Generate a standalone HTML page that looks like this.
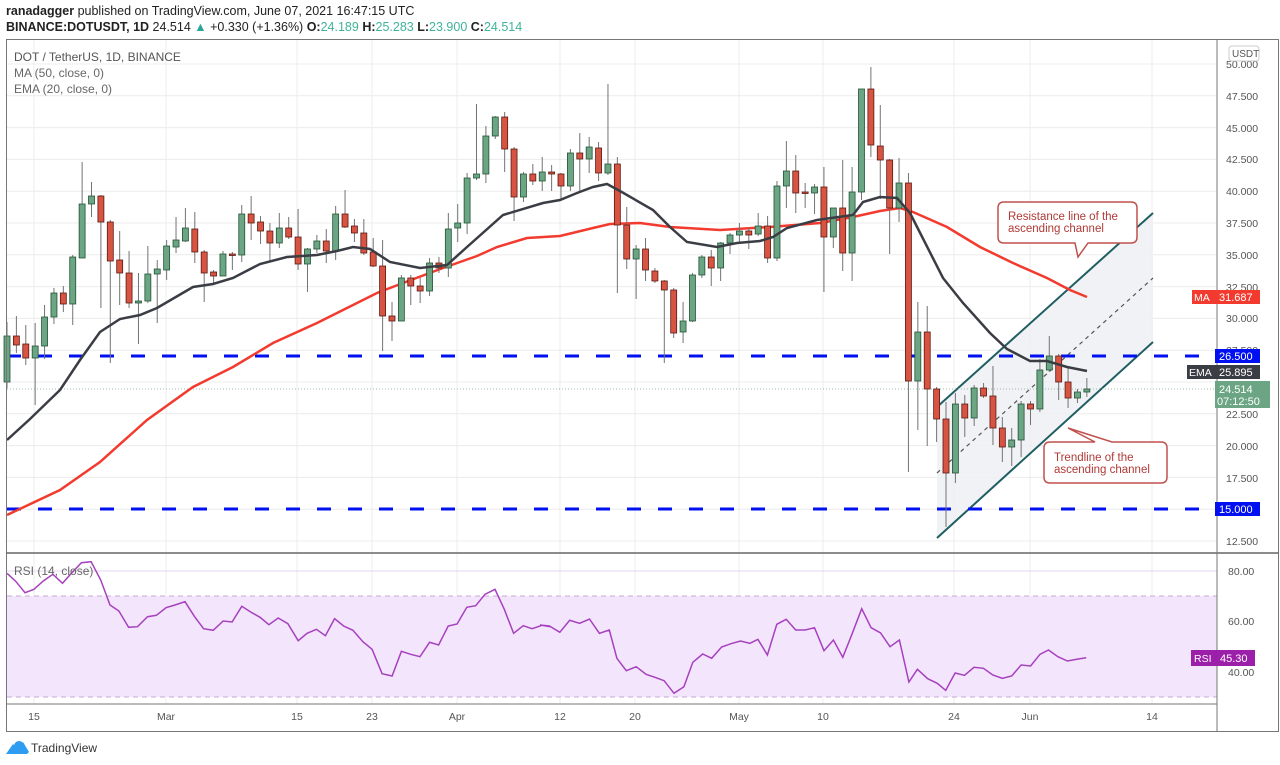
<!DOCTYPE html>
<html><head><meta charset="utf-8"><style>
body{margin:0;background:#fff;width:1280px;height:765px;overflow:hidden;font-family:"Liberation Sans",sans-serif}
svg{position:absolute;left:0;top:0}
</style></head><body>
<svg id="s" width="1280" height="765" viewBox="0 0 1280 765" xmlns="http://www.w3.org/2000/svg" font-family="Liberation Sans, sans-serif">
<rect width="1280" height="765" fill="#fff"/>
<g id="grid" stroke="#ececec" stroke-width="1"></g>
<!-- RSI band -->
<rect x="7" y="596" width="1210" height="101" fill="#f3e5fc"/>
<line x1="7" y1="596" x2="1217" y2="596" stroke="#c9a8d6" stroke-dasharray="5,4"/>
<line x1="7" y1="697" x2="1217" y2="697" stroke="#c9a8d6" stroke-dasharray="5,4"/>
<!-- channel -->
<polygon points="937,407 1153,213 1153,342 937,538" fill="#eef0f3" opacity="0.85"/>
<line x1="937" y1="407" x2="1153" y2="213" stroke="#1f5e63" stroke-width="2"/>
<line x1="937" y1="538" x2="1153" y2="342" stroke="#1f5e63" stroke-width="2"/>
<line x1="937" y1="473" x2="1153" y2="278" stroke="#555" stroke-width="1.2" stroke-dasharray="4,4"/>
<!-- horizontal lines -->
<line x1="7" y1="356" x2="1217" y2="356" stroke="#0010f0" stroke-width="3" stroke-dasharray="14,17"/>
<line x1="7" y1="509" x2="1217" y2="509" stroke="#0010f0" stroke-width="3" stroke-dasharray="14,17"/>
<line x1="7" y1="389" x2="1217" y2="389" stroke="#9bbfa8" stroke-width="1" stroke-dasharray="1,2"/>
<!-- MA -->
<polyline fill="none" stroke="#f23b2e" stroke-width="2.5" points="7,515 60,490 100,462 147,420 193,387 233,367 273,343 317,323 343,310 377,293 403,283 443,268 477,256 497,247 527,238 560,236 593,228 610,224 640,223 670,227 720,230 770,227 820,223 853,217 880,211 900,208 913,212 947,227 980,247 1013,263 1047,278 1070,290 1087,297"/>
<g id="candles"></g>
<!-- EMA -->
<polyline fill="none" stroke="#3b3d45" stroke-width="2.5" points="7,440 30,419 60,390 80,360 100,332 120,319 140,315 157,308 193,287 213,284 233,278 260,264 287,257 317,255 337,251 353,247 370,249 390,262 420,268 447,265 467,247 503,215 543,203 560,200 577,193 593,187 607,184 620,191 653,210 670,227 687,242 717,247 737,243 760,241 773,237 787,228 817,220 853,215 863,202 880,197 897,198 910,213 943,278 963,303 990,333 1007,349 1030,361 1047,361 1067,367 1087,371"/>
<!-- RSI -->
<polyline id="rsi" fill="none" stroke="#a641be" stroke-width="1.5"/>
<!-- frame -->
<rect x="6.5" y="39.5" width="1272" height="692" fill="none" stroke="#777" stroke-width="1"/>
<line x1="6" y1="553" x2="1279" y2="553" stroke="#666" stroke-width="1.5"/>
<line x1="6" y1="704" x2="1217" y2="704" stroke="#777" stroke-width="1"/>
<line x1="1217" y1="39" x2="1217" y2="731" stroke="#777" stroke-width="1"/>
<!-- header -->
<text x="6" y="15" font-size="12.5" fill="#222"><tspan font-weight="bold">ranadagger</tspan> published on TradingView.com, June 07, 2021 16:47:15 UTC</text>
<text x="6" y="31" font-size="12.5" fill="#222"><tspan font-weight="bold">BINANCE:DOTUSDT, 1D</tspan>  24.514 <tspan fill="#26a69a">▲</tspan> +0.330 (+1.36%) <tspan font-weight="bold">O:</tspan><tspan fill="#3fb39b">24.189</tspan> <tspan font-weight="bold">H:</tspan><tspan fill="#3fb39b">25.283</tspan> <tspan font-weight="bold">L:</tspan><tspan fill="#3fb39b">23.900</tspan> <tspan font-weight="bold">C:</tspan><tspan fill="#3fb39b">24.514</tspan></text>
<text x="14" y="61" font-size="12" fill="#555">DOT / TetherUS, 1D, BINANCE</text>
<text x="14" y="77" font-size="12" fill="#666">MA (50, close, 0)</text>
<text x="14" y="93" font-size="12" fill="#666">EMA (20, close, 0)</text>
<text x="14" y="575" font-size="12" fill="#666">RSI (14, close)</text>
<!-- price axis labels -->
<g font-size="10.5" fill="#555">
<text x="1226" y="68">50.000</text><text x="1226" y="100">47.500</text><text x="1226" y="132">45.000</text><text x="1226" y="163">42.500</text><text x="1226" y="195">40.000</text><text x="1226" y="227">37.500</text><text x="1226" y="259">35.000</text><text x="1226" y="291">32.500</text><text x="1226" y="322">30.000</text><text x="1226" y="354">27.500</text><text x="1226" y="418">22.500</text><text x="1226" y="450">20.000</text><text x="1226" y="482">17.500</text><text x="1226" y="545">12.500</text>
<text x="1228" y="575">80.00</text><text x="1228" y="625">60.00</text><text x="1228" y="676">40.00</text>
</g>
<rect x="1229" y="46" width="30" height="15" rx="3" fill="#fff" stroke="#ccc"/>
<text x="1232" y="57" font-size="10" fill="#555">USDT</text>
<!-- axis tags -->
<rect x="1215" y="349" width="45" height="14" fill="#0010f0"/><text x="1219" y="360" font-size="11" fill="#fff">26.500</text>
<rect x="1215" y="502" width="45" height="14" fill="#0010f0"/><text x="1219" y="513" font-size="11" fill="#fff">15.000</text>
<rect x="1192" y="290" width="68" height="14" fill="#f23b2e"/><text x="1194" y="301" font-size="10.5" fill="#fff">MA</text><text x="1219" y="301" font-size="11" fill="#fff">31.687</text>
<rect x="1187" y="365" width="73" height="14" fill="#3b3d45"/><text x="1189" y="376" font-size="10.5" fill="#fff">EMA</text><text x="1219" y="376" font-size="11" fill="#fff">25.895</text>
<rect x="1215" y="381" width="55" height="27" fill="#6ba583"/><text x="1219" y="393" font-size="11" fill="#fff">24.514</text><text x="1217" y="405" font-size="11" fill="#fff">07:12:50</text>
<rect x="1191" y="650" width="64" height="16" fill="#9b1fa8"/><text x="1194" y="662" font-size="10.5" fill="#fff">RSI</text><text x="1220" y="662" font-size="11" fill="#fff">45.30</text>
<!-- date labels -->
<g font-size="10.5" fill="#555" text-anchor="middle">
<text x="34" y="720">15</text><text x="166" y="720">Mar</text><text x="297" y="720">15</text><text x="372" y="720">23</text><text x="457" y="720">Apr</text><text x="560" y="720">12</text><text x="635" y="720">20</text><text x="739" y="720">May</text><text x="823" y="720">10</text><text x="954" y="720">24</text><text x="1030" y="720">Jun</text><text x="1152" y="720">14</text>
</g>
<!-- callouts -->
<path d="M1004,202 H1131 Q1137,202 1137,208 V237 Q1137,243 1131,243 H1088 L1078,257 L1075,243 H1004 Q998,243 998,237 V208 Q998,202 1004,202 Z" fill="#fff" stroke="#c0504d" stroke-width="1.5"/>
<text x="1008" y="220" font-size="11.5" fill="#b03a36">Resistance line of the</text>
<text x="1008" y="232" font-size="11.5" fill="#b03a36">ascending channel</text>
<path d="M1050,442 H1095 L1068,428 L1112,442 H1161 Q1167,442 1167,448 V477 Q1167,483 1161,483 H1050 Q1044,483 1044,477 V448 Q1044,442 1050,442 Z" fill="#fff" stroke="#c0504d" stroke-width="1.5"/>
<text x="1054" y="461" font-size="11.5" fill="#b03a36">Trendline of the</text>
<text x="1054" y="473" font-size="11.5" fill="#b03a36">ascending channel</text>
<!-- logo -->
<path d="M6,754 L13,744 L18,749 L23,742 L29,752 L27,754 Z" fill="#2e9cf0"/>
<circle cx="19" cy="746" r="5" fill="#2e9cf0"/>
<text x="31" y="752" font-size="12" fill="#333">TradingView</text>
</svg>
<script>
var NS="http://www.w3.org/2000/svg";
function el(t,a,p){var e=document.createElementNS(NS,t);for(var k in a)e.setAttribute(k,a[k]);p.appendChild(e);return e;}
var grid=document.getElementById('grid');
[34,166,297,372,457,560,635,739,823,954,1030,1152].forEach(function(x){el('line',{x1:x,y1:40,x2:x,y2:704},grid);});
for(var i=0;i<=15;i++){var y=64+i*31.8;el('line',{x1:7,y1:y,x2:1217,y2:y},grid);}
[571,621,671].forEach(function(y){el('line',{x1:7,y1:y,x2:1217,y2:y,stroke:'#e4d6ec'},grid);});
var C=[[336,382,322,388,1],[336,345,316,353,0],[344,358,325,365,0],[346,358,323,405,1],[317,346,305,359,1],[293,317,288,324,1],[293,304,286,312,0],[257,304,255,325,1],[204,258,162,258,1],[196,204,182,217,1],[196,222,195,308,0],[222,261,220,363,0],[260,273,231,305,0],[273,303,251,308,0],[301,303,273,344,1],[274,301,246,303,1],[269,274,260,323,1],[246,270,240,280,1],[240,247,217,253,1],[228,241,208,242,1],[229,252,212,263,0],[252,273,250,302,0],[272,276,270,283,0],[254,276,251,276,1],[254,255,252,270,0],[214,255,205,262,1],[214,223,196,240,0],[222,231,216,244,0],[231,243,223,262,0],[228,243,213,248,1],[228,237,217,239,0],[237,264,209,270,0],[249,264,248,292,1],[241,249,235,253,1],
[241,251,229,263,0],[214,251,206,260,1],[214,227,190,228,0],[226,233,219,242,0],[233,253,219,255,0],[252,266,238,267,0],[266,316,240,351,0],[316,321,302,341,0],[278,321,275,321,1],[278,286,275,305,0],[286,291,278,303,0],[263,291,258,296,1],[263,268,257,273,0],[229,268,213,277,1],[223,228,204,242,1],[178,223,173,234,1],[174,178,104,180,1],[136,174,126,183,1],[117,136,116,139,1],[117,149,112,172,0],[149,197,147,221,0],[174,197,172,202,1],[174,181,164,185,0],[172,181,157,191,1],[172,174,165,191,0],[174,186,173,200,0],[153,186,149,191,1],[153,159,133,191,0],[147,159,137,173,1],[148,173,142,181,0],[164,173,84,175,1],[164,225,157,293,0],[225,259,207,269,0],[249,259,245,299,1],
[249,270,238,281,0],[271,281,268,283,0],[281,290,280,363,0],[290,333,288,338,0],[321,332,302,343,1],[275,321,273,322,1],[257,275,255,278,1],[257,268,250,286,0],[243,268,242,281,1],[235,243,233,254,1],[231,235,223,243,1],[231,235,228,249,0],[226,234,213,236,1],[226,258,216,263,0],[186,258,181,261,1],[171,186,141,208,1],[171,193,155,213,0],[192,193,183,208,0],[187,193,184,214,1],[187,237,167,292,0],[208,237,208,248,1],[208,253,160,271,0],[192,253,167,281,1],[89,192,89,200,1],[89,145,67,157,0],[146,160,105,199,0],[160,208,159,254,0],[183,208,158,222,1],[183,381,173,472,0],
[332,381,302,430,1],[332,389,306,446,0],[389,419,387,442,0],[419,473,402,527,0],[404,473,393,483,1],[404,418,395,437,0],[388,418,385,426,1],[388,396,383,398,0],[396,428,366,445,0],[428,447,417,462,0],[440,447,428,466,1],[404,440,401,457,1],[404,409,401,425,0],[370,409,359,412,1],[356,370,336,372,1],[356,382,354,400,0],[382,398,367,408,0],[392,398,389,403,1],[389,392,378,397,1]];
var g=document.getElementById('candles');
C.forEach(function(c,i){var x=7+i*9.39;
el('line',{x1:x,y1:c[2],x2:x,y2:c[3],stroke:'#737375','stroke-width':1},g);
var h=Math.max(c[1]-c[0],1.5);
el('rect',{x:x-3,y:c[0],width:6,height:h,fill:c[4]?'#6ba583':'#d75442',stroke:c[4]?'#225437':'#5b1a13','stroke-width':0.8},g);});
var R1=[[20,70],[45,95],[70,128],[95,118],[122,92],[148,73],[175,100],[200,70],[228,38],[255,35],[282,90],[308,165],[333,183],[360,232],[385,230],[413,200],[438,196],[465,173],[490,165],[518,155],[545,200],[570,236],[597,241],[625,213],[650,216],[677,169],[702,186],[728,202],[753,224],[779,204],[806,221],[835,272],[860,250],[886,238],[911,257],[937,206],[962,228],[988,241],[1016,275],[1042,298],[1070,371],[1098,378],[1124,304],[1150,313],[1176,320],[1203,277],[1228,285],[1255,228],[1280,222],[1307,172],[1332,167],[1358,133],[1386,118],[1412,178],[1438,250],[1465,227],[1490,236],[1518,226],[1542,230]];
var R2=[[0,225],[20,228],[42,247],[63,211],[84,220],[105,207],[126,250],[147,240],[163,325],[183,362],[204,350],[225,373],[246,383],[263,392],[284,430],[305,410],[324,337],[345,312],[364,325],[385,291],[405,281],[425,273],[445,280],[462,268],[482,315],[502,223],[522,208],[542,240],[562,240],[582,233],[602,302],[622,270],[642,322],[662,250],[682,176],[702,233],[722,249],[742,290],[762,270],[782,396],[800,358],[822,386],[842,400],[860,421],[880,369],[900,376],[920,352],[940,355],[960,375],[980,385],[1000,378],[1020,345],[1040,348],[1060,313],[1078,300],[1098,320],[1118,333],[1138,328],[1158,323]];
var pts=R1.map(function(p){return (p[0]/2.8).toFixed(1)+','+(550+p[1]/3).toFixed(1);}).concat(R2.map(function(p){return (540+p[0]/2.12).toFixed(1)+','+(550+p[1]/3).toFixed(1);}));
document.getElementById('rsi').setAttribute('points',pts.join(' '));
</script>
</body></html>
